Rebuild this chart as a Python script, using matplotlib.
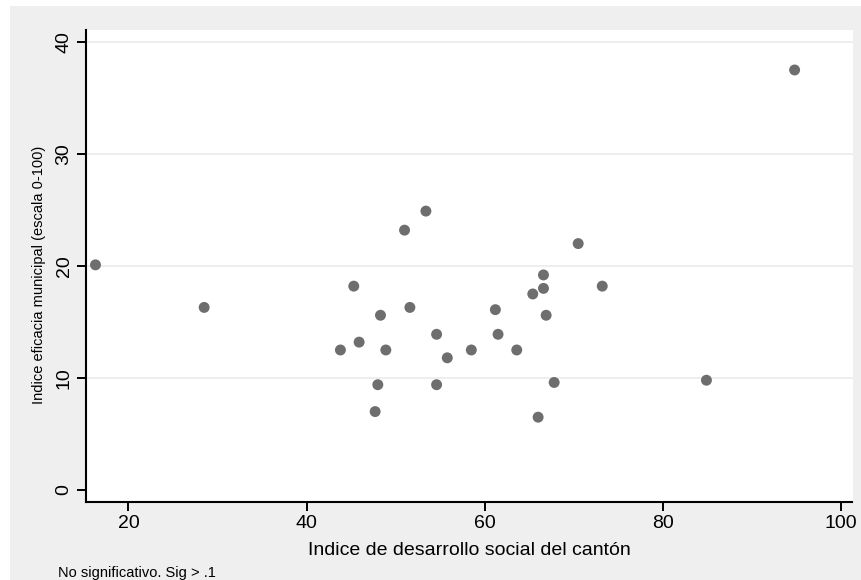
import matplotlib
matplotlib.use("Agg")
import matplotlib.pyplot as plt
from matplotlib.patches import Rectangle

# Data
ids_canton = [16.3, 28.5, 53.4, 51.0, 70.5, 66.6, 45.3, 66.6, 73.2, 65.4,
              51.6, 61.2, 48.3, 66.9, 54.6, 61.5, 45.9, 43.8, 48.9, 58.5,
              63.6, 55.8, 48.0, 54.6, 67.8, 47.7, 66.0, 84.9, 94.8]
eficacia = [20.1, 16.3, 24.9, 23.2, 22.0, 19.2, 18.2, 18.0, 18.2, 17.5,
            16.3, 16.1, 15.6, 15.6, 13.9, 13.9, 13.2, 12.5, 12.5, 12.5,
            12.5, 11.8, 9.4, 9.4, 9.6, 7.0, 6.5, 9.8, 37.5]

x_ticks = [20, 40, 60, 80, 100]
y_ticks = [0, 10, 20, 30, 40]

plt.rcParams['font.family'] = ['Liberation Sans', 'DejaVu Sans']

W, H = 862, 580
fig = plt.figure(figsize=(W / 100, H / 100), dpi=100, facecolor='white')
bg = Rectangle((10 / W, 0), 1 - 10 / W, 1 - 6 / H,
               transform=fig.transFigure, facecolor='#efefef',
               edgecolor='none', zorder=-10)
fig.patches.append(bg)

left, right = 85.7 / W, 852.5 / W
bottom, top = 1 - 502.3 / H, 1 - 30 / H
ax = fig.add_axes([left, bottom, right - left, top - bottom])
ax.set_zorder(5)
ax.set_facecolor('white')

ax.set_xlim(15.2, 101.3)
ax.set_ylim(-1.1, 41.07)

for yv in y_ticks[1:]:
    ax.axhline(yv, color='#eaeaea', linewidth=1.1, zorder=1)

ax.scatter(ids_canton, eficacia, s=62, color='#6e6e6e', edgecolors='none', zorder=3)

for side in ['top', 'right']:
    ax.spines[side].set_visible(False)
for side in ['left', 'bottom']:
    ax.spines[side].set_linewidth(1.5)
    ax.spines[side].set_color('black')

ax.set_xticks(x_ticks)
ax.set_yticks(y_ticks)
ax.tick_params(axis='both', direction='out', length=6.5, width=1.4,
               labelsize=14, colors='black', pad=3)
for lbl in ax.get_yticklabels():
    lbl.set_rotation(90)
    lbl.set_va('center')
    lbl.set_ha('right')

ax.set_xlabel('Indice de desarrollo social del cantón', fontsize=14, labelpad=7)
fig.text(39 / W, 1 - 275 / H, 'Indice eficacia municipal (escala 0-100)',
         rotation=90, ha='center', va='center', fontsize=10.5)
fig.text(58 / W, 1 - 573 / H, 'No significativo. Sig > .1', ha='left',
         va='center', fontsize=10.5)

fig.savefig('out.png', dpi=100, facecolor='white')
